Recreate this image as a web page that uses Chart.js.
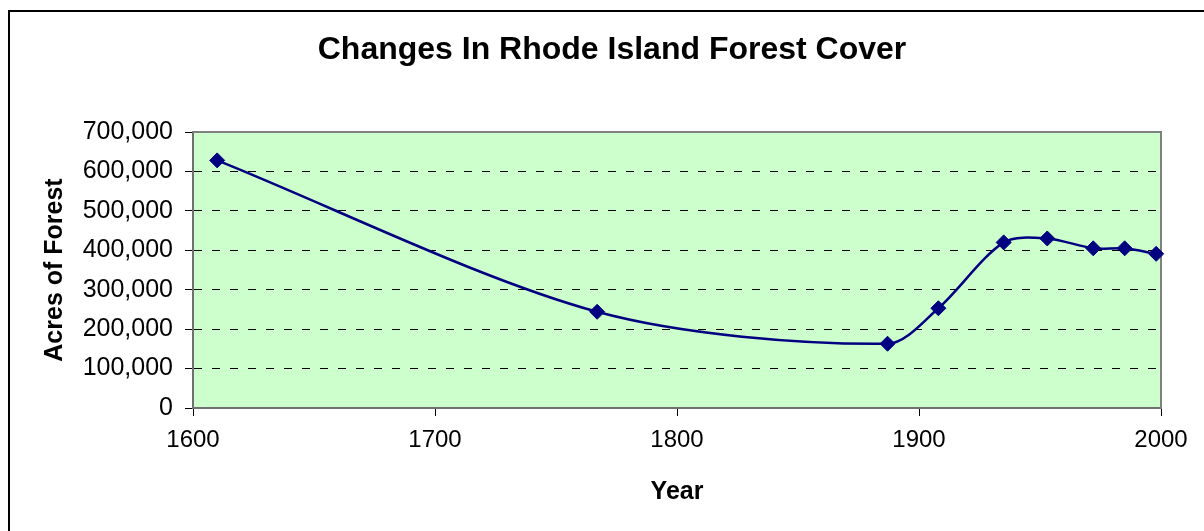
<!DOCTYPE html>
<html>
<head>
<meta charset="utf-8">
<title>Changes In Rhode Island Forest Cover</title>
<script src="https://cdn.jsdelivr.net/npm/chart.js@4"></script>
<style>
  html, body { margin: 0; padding: 0; background: #ffffff; }
  #wrap { width: 1204px; height: 531px; position: relative; }
</style>
</head>
<body>
<div id="wrap"><canvas id="forest" width="1204" height="531"></canvas></div>
<script>
// Survey years and estimated forested acreage in Rhode Island
const years = [1610, 1767, 1887, 1908, 1935, 1953, 1972, 1985, 1998];
const acres = [628000, 244000, 163000, 253000, 420000, 430000, 405000, 405000, 391000];

// Axis tick values
const yearTicks = [1600, 1700, 1800, 1900, 2000];
const acreTicks = [0, 100000, 200000, 300000, 400000, 500000, 600000, 700000];

// Text
const chartTitle = 'Changes In Rhode Island Forest Cover';
const xTitle = 'Year';
const yTitle = 'Acres of Forest';

const FONT = "'Liberation Sans', Arial, Helvetica, sans-serif";

// Outer frame, plot-area fill, grey top/right plot border and the heading
const framePlugin = {
  id: 'frame',
  beforeDraw(chart) {
    const { ctx, chartArea: a } = chart;
    ctx.save();
    ctx.fillStyle = '#ffffff';
    ctx.fillRect(0, 0, chart.width, chart.height);
    ctx.strokeStyle = '#000000';
    ctx.lineWidth = 2;
    ctx.strokeRect(9, 11, chart.width + 40, chart.height + 40);
    ctx.fillStyle = '#CCFFCC';
    ctx.fillRect(a.left, a.top, a.right - a.left, a.bottom - a.top);
    ctx.restore();
  },
  beforeDatasetsDraw(chart) {
    const { ctx, chartArea: a } = chart;
    ctx.save();
    ctx.strokeStyle = '#808080';
    ctx.lineWidth = 2;
    ctx.beginPath();
    ctx.moveTo(a.left, a.top);
    ctx.lineTo(a.right, a.top);
    ctx.lineTo(a.right, a.bottom);
    ctx.stroke();
    ctx.restore();
  },
  afterDraw(chart) {
    const { ctx } = chart;
    ctx.save();
    ctx.fillStyle = '#000000';
    ctx.font = "bold 32px " + FONT;
    ctx.textAlign = 'center';
    ctx.textBaseline = 'middle';
    ctx.fillText(chartTitle, 612, 50);
    ctx.restore();
  }
};

new Chart(document.getElementById('forest'), {
  type: 'line',
  data: {
    datasets: [{
      label: yTitle,
      data: years.map((x, i) => ({ x: x, y: acres[i] })),
      borderColor: '#000080',
      backgroundColor: '#000080',
      borderWidth: 2.5,
      tension: 0.3,
      fill: false,
      pointStyle: 'rectRot',
      pointRadius: 7.5,
      pointBorderWidth: 1,
      pointBackgroundColor: '#000080',
      pointBorderColor: '#000080',
      clip: false
    }]
  },
  options: {
    responsive: false,
    devicePixelRatio: 1,
    animation: false,
    layout: { padding: { left: 0, right: 43, top: 132, bottom: 24 } },
    plugins: {
      legend: { display: false },
      tooltip: { enabled: false },
      title: { display: false }
    },
    scales: {
      x: {
        type: 'linear',
        min: yearTicks[0],
        max: yearTicks[yearTicks.length - 1],
        afterBuildTicks: s => { s.ticks = yearTicks.map(v => ({ value: v })); },
        afterFit: s => { s.height = 99; },
        ticks: {
          color: '#000000',
          padding: 10,
          maxRotation: 0,
          autoSkip: false,
          font: { family: FONT, size: 24 },
          callback: v => String(v)
        },
        grid: {
          drawOnChartArea: false,
          drawTicks: true,
          tickLength: 8,
          tickColor: '#000000',
          tickWidth: 1
        },
        border: { display: true, color: '#707070', width: 2 },
        title: {
          display: true,
          text: xTitle,
          color: '#000000',
          font: { family: FONT, size: 25, weight: 'bold', lineHeight: 1.2 },
          padding: { top: 22, bottom: 0 }
        }
      },
      y: {
        type: 'linear',
        min: acreTicks[0],
        max: acreTicks[acreTicks.length - 1],
        afterBuildTicks: s => { s.ticks = acreTicks.map(v => ({ value: v })); },
        afterFit: s => { s.width = 193; },
        ticks: {
          color: '#000000',
          padding: 12,
          font: { family: FONT, size: 25 },
          callback: v => Number(v).toLocaleString('en-US')
        },
        grid: {
          color: c => (c.tick && (c.tick.value === acreTicks[0] || c.tick.value === acreTicks[acreTicks.length - 1])) ? 'rgba(0,0,0,0)' : '#000000',
          lineWidth: 1,
          drawTicks: true,
          tickLength: 8,
          tickColor: '#000000',
          tickWidth: 1
        },
        border: { display: true, color: '#707070', width: 2, dash: [8, 10] },
        title: {
          display: true,
          text: yTitle,
          color: '#000000',
          font: { family: FONT, size: 25, weight: 'bold', lineHeight: 1.2 },
          padding: { top: 40, bottom: 0 }
        }
      }
    }
  },
  plugins: [framePlugin]
});
</script>
</body>
</html>
